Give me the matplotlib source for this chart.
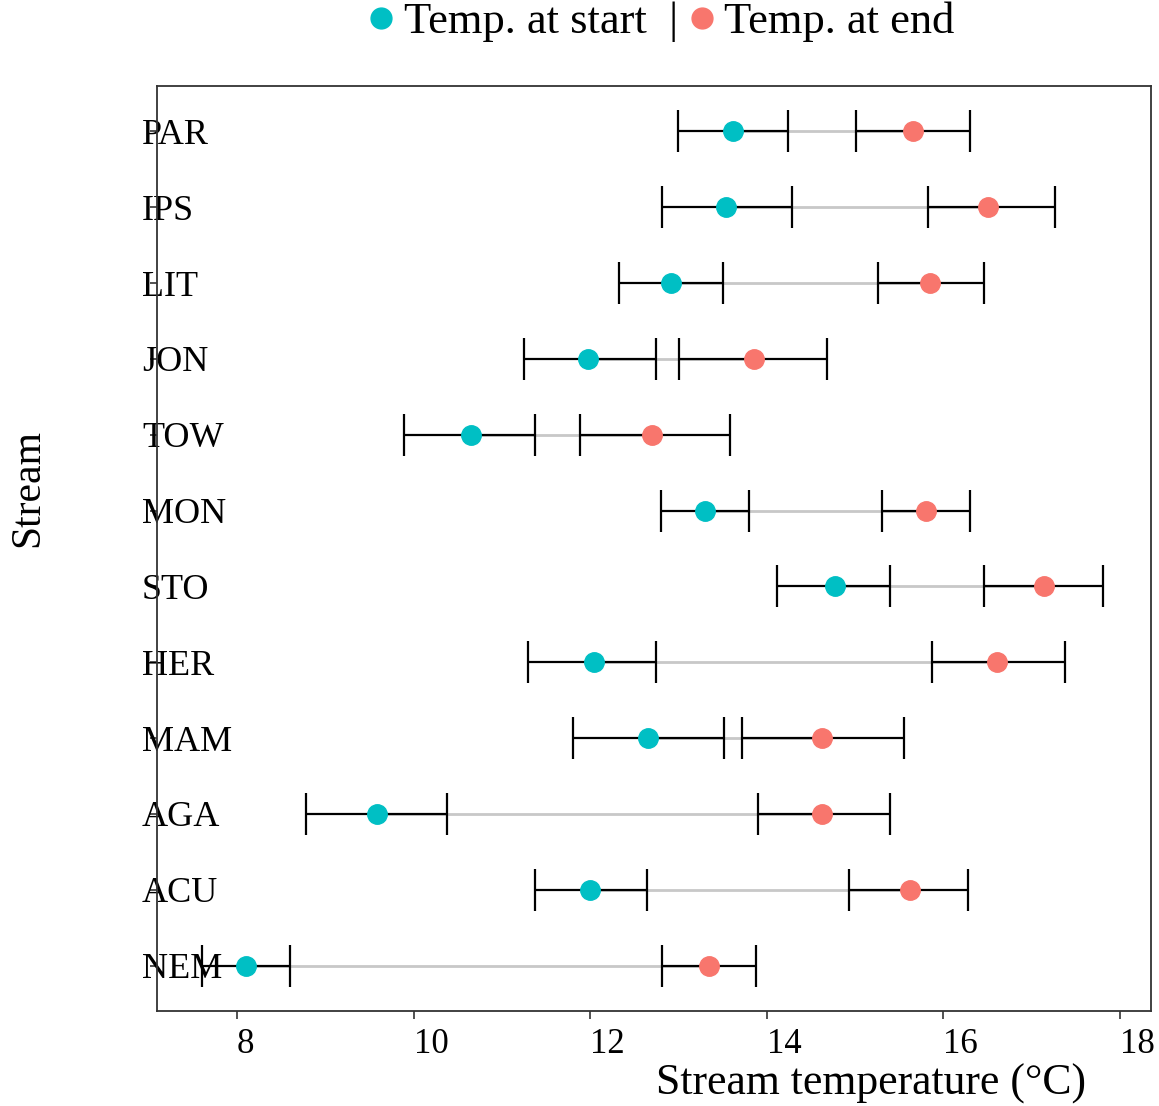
import matplotlib

matplotlib.use("Agg")
import matplotlib.pyplot as plt
from matplotlib.lines import Line2D

# streams, bottom to top
streams = ["NEM", "ACU", "AGA", "MAM", "HER", "STO", "MON", "TOW", "JON", "LIT", "IPS", "PAR"]

start_mean = [8.10, 12.00, 9.59, 12.66, 12.04, 14.77, 13.30, 10.65, 11.98, 12.92, 13.54, 13.62]
start_lo = [7.61, 11.37, 8.78, 11.80, 11.30, 14.12, 12.80, 9.89, 11.25, 12.33, 12.81, 12.99]
start_hi = [8.60, 12.64, 10.38, 13.52, 12.74, 15.39, 13.80, 11.38, 12.74, 13.50, 14.29, 14.24]

end_mean = [13.34, 15.62, 14.63, 14.63, 16.61, 17.14, 15.80, 12.70, 13.86, 15.85, 16.51, 15.65]
end_lo = [12.81, 14.93, 13.90, 13.72, 15.87, 16.46, 15.30, 11.88, 13.00, 15.26, 15.82, 15.01]
end_hi = [13.88, 16.28, 15.39, 15.55, 17.38, 17.81, 16.30, 13.58, 14.68, 16.46, 17.26, 16.30]

x_ticks = [8, 10, 12, 14, 16, 18]

START_COL = "#00BFC4"
END_COL = "#F8766D"

plt.rcParams["font.family"] = ["Liberation Serif", "DejaVu Serif"]

fig = plt.figure(figsize=(11.59, 11.06), dpi=100)
W, H = 1159, 1106
ax = fig.add_axes([157 / W, 1 - 1011 / H, (1151 - 157) / W, (1011 - 86) / H])

ys = list(range(1, len(streams) + 1))

# grey connecting segments
for y, s, e in zip(ys, start_mean, end_mean):
    ax.plot([s, e], [y, y], color="#C8C8C8", lw=2, zorder=1)

for mean, lo, hi, col in [(start_mean, start_lo, start_hi, START_COL),
                          (end_mean, end_lo, end_hi, END_COL)]:
    xerr = [[m - l for m, l in zip(mean, lo)], [h - m for m, h in zip(mean, hi)]]
    ax.errorbar(mean, ys, xerr=xerr, fmt="none", ecolor="black", elinewidth=1.6,
                capsize=15, capthick=1.6, zorder=2)
    ax.plot(mean, ys, "o", color=col, ms=14, mec=col, zorder=3)

ax.set_xlim(7.095, 18.35)
ax.set_ylim(0.4, 12.6)
ax.set_xticks(x_ticks)
ax.set_xticklabels([str(t) for t in x_ticks], fontsize=25, ha="left")
ax.set_yticks(ys)
ax.set_yticklabels(streams, fontsize=26, ha="left")

ax.tick_params(axis="x", length=6, width=1.2, color="#333333", pad=6)
ax.tick_params(axis="y", length=5, width=1.2, color="#333333", pad=5.8)
for s in ax.spines.values():
    s.set_color("#333333")
    s.set_linewidth(1.3)

ax.set_xlabel("Stream temperature (°C)", fontsize=31.5)
ax.xaxis.set_label_coords(0.718, -0.057)
ax.set_ylabel("Stream", fontsize=30)
ax.yaxis.set_label_coords(-0.110, 0.565)

handles = [
    Line2D([], [], marker="o", ls="none", color=START_COL, ms=15),
    Line2D([], [], marker="o", ls="none", color=END_COL, ms=15),
]
fig.legend(handles, ["Temp. at start  |", "Temp. at end"], loc="center",
           bbox_to_anchor=(658 / W, 1 - 22 / H), ncol=2, frameon=False,
           fontsize=32, handletextpad=0.05, columnspacing=0.1, handlelength=0.9)

fig.savefig("out.png", dpi=100)
